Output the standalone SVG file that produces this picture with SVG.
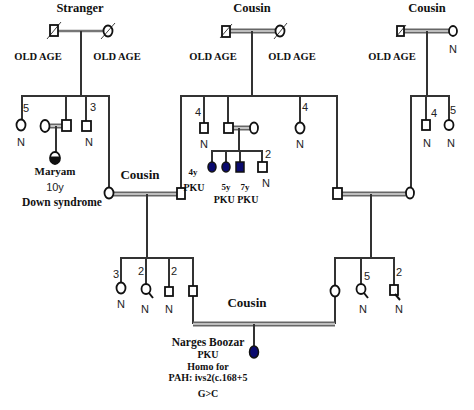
<svg xmlns="http://www.w3.org/2000/svg" width="474" height="410" viewBox="0 0 474 410">
<style>
.ln{stroke:#333;stroke-width:2;fill:none}
.sym{stroke:#111;stroke-width:1.8;fill:#fff}
.aff{stroke:#111;stroke-width:1.5;fill:#0a0a6e}
.m1{stroke:#777;stroke-width:2.5;fill:none}
.mo{stroke:#666;stroke-width:5;fill:none}
.mi{stroke:#ddd;stroke-width:1.6;fill:none}
.lbl{font-family:"Liberation Serif",serif;font-weight:bold;fill:#111;text-anchor:middle}
.big{font-size:13px}
.sm{font-size:10.5px}
.num{font-family:"Liberation Sans Narrow","Liberation Sans",sans-serif;font-size:11px;fill:#222;text-anchor:middle}
.slash{stroke:#111;stroke-width:0.8}
</style>
<rect width="474" height="410" fill="#fff"/>
<g id="connectors">
<line class="m1" x1="58" y1="31" x2="104" y2="31"/>
<line class="mo" x1="230" y1="31" x2="276" y2="31"/><line class="mi" x1="230" y1="31" x2="276" y2="31"/>
<line class="mo" x1="404" y1="31" x2="449" y2="31"/><line class="mi" x1="404" y1="31" x2="449" y2="31"/>
<line class="ln" x1="81" y1="31" x2="81" y2="97"/>
<line class="ln" x1="252" y1="31" x2="252" y2="97"/>
<line class="ln" x1="427" y1="31" x2="427" y2="97"/>
<polyline class="ln" points="22,120 22,96 109,96 109,188"/>
<line class="ln" x1="66" y1="96" x2="66" y2="121"/>
<line class="ln" x1="86" y1="96" x2="86" y2="121"/>
<polyline class="ln" points="181,188 181,96 337,96 337,188"/>
<line class="ln" x1="204" y1="96" x2="204" y2="123"/>
<line class="ln" x1="228" y1="96" x2="228" y2="123"/>
<line class="ln" x1="300" y1="96" x2="300" y2="123"/>
<polyline class="ln" points="411,188 411,96 449,96 449,121"/>
<line class="ln" x1="426" y1="96" x2="426" y2="120"/>
<line class="mo" x1="50" y1="126" x2="62" y2="126"/><line class="mi" x1="50" y1="126" x2="62" y2="126"/>
<line class="ln" x1="56" y1="126" x2="56" y2="153"/>
<line class="mo" x1="233" y1="128" x2="250" y2="128"/><line class="mi" x1="233" y1="128" x2="250" y2="128"/>
<line class="ln" x1="239" y1="128" x2="239" y2="151"/>
<polyline class="ln" points="212,162 212,151 262,151 262,162"/>
<line class="ln" x1="226" y1="151" x2="226" y2="162"/>
<line class="ln" x1="240" y1="151" x2="240" y2="162"/>
<line class="mo" x1="113" y1="194" x2="177" y2="194"/><line class="mi" x1="113" y1="194" x2="177" y2="194"/>
<line class="mo" x1="342" y1="194" x2="406" y2="194"/><line class="mi" x1="342" y1="194" x2="406" y2="194"/>
<line class="ln" x1="147" y1="194" x2="147" y2="258"/>
<line class="ln" x1="371" y1="194" x2="371" y2="258"/>
<polyline class="ln" points="121,283 121,258 193,258 193,324"/>
<line class="ln" x1="146" y1="258" x2="146" y2="285"/>
<line class="ln" x1="169" y1="258" x2="169" y2="287"/>
<polyline class="ln" points="335,324 335,258 394,258 394,285"/>
<line class="ln" x1="361" y1="258" x2="361" y2="284"/>
<line class="mo" x1="193" y1="324" x2="335" y2="324"/><line class="mi" x1="193" y1="324" x2="335" y2="324"/>
<line class="ln" x1="254" y1="324" x2="254" y2="346"/>
</g>
<g id="n-stranger-m"><rect class="sym" x="50" y="25" width="8" height="11"/><line class="slash" x1="47" y1="39" x2="61" y2="22"/></g>
<g id="n-stranger-f"><ellipse class="sym" cx="108" cy="31" rx="4.5" ry="5.5"/><line class="slash" x1="101" y1="39" x2="115" y2="23"/></g>
<g id="n-cousin1-m"><rect class="sym" x="222" y="26" width="8" height="11"/><line class="slash" x1="220" y1="38" x2="232" y2="24"/></g>
<g id="n-cousin1-f"><ellipse class="sym" cx="280" cy="31" rx="4.5" ry="5.5"/><line class="slash" x1="274" y1="39" x2="287" y2="23"/></g>
<g id="n-cousin2-m"><rect class="sym" x="397" y="26" width="7" height="10"/><line class="slash" x1="396" y1="37" x2="406" y2="25"/></g>
<g id="n-cousin2-f"><ellipse class="sym" cx="453" cy="31" rx="4" ry="5"/></g>
<g id="t-top" class="lbl">
<text x="80" y="12" font-size="12.5">Stranger</text>
<text x="252" y="12" font-size="12.5">Cousin</text>
<text x="427" y="12" font-size="12.5">Cousin</text>
<text class="sm" x="38" y="60">OLD AGE</text>
<text class="sm" x="117" y="60">OLD AGE</text>
<text class="sm" x="213" y="60">OLD AGE</text>
<text class="sm" x="292" y="60">OLD AGE</text>
<text class="sm" x="392" y="60">OLD AGE</text>
</g>
<text class="num" x="453" y="53">N</text>
<g id="n-l1"><ellipse class="sym" cx="21" cy="125" rx="4.5" ry="5.5"/><text class="num" x="26" y="112">5</text><text class="num" x="21" y="146">N</text></g>
<g id="n-l2-spouse"><ellipse class="sym" cx="45" cy="126" rx="4.5" ry="6"/></g>
<g id="n-l2"><rect class="sym" x="62" y="120" width="9" height="11"/></g>
<g id="n-maryam"><ellipse class="sym" cx="55" cy="158" rx="5" ry="6"/><path d="M50.2,156.5 A5,6 0 1 0 59.8,156.5 Z" fill="#111"/>
<text class="lbl" x="55" y="175" font-size="11">Maryam</text>
<text class="num" x="55" y="191" font-size="12">10y</text>
<text class="lbl" x="62" y="206" font-size="11.5">Down syndrome</text></g>
<g id="n-l3"><rect class="sym" x="82" y="121" width="9" height="10"/><text class="num" x="93" y="111">3</text><text class="num" x="89" y="146">N</text></g>
<g id="n-l4"><ellipse class="sym" cx="109" cy="193" rx="4.5" ry="5.5"/></g>
<text class="lbl big" x="140" y="179">Cousin</text>
<g id="n-m1"><rect class="sym" x="177" y="188" width="8" height="11"/></g>
<g id="n-m2"><rect class="sym" x="200" y="123" width="8" height="10"/><text class="num" x="198" y="116">4</text><text class="num" x="204" y="148">N</text></g>
<g id="n-m3"><rect class="sym" x="224" y="123" width="9" height="10"/></g>
<g id="n-m3-spouse"><ellipse class="sym" cx="254" cy="128" rx="4" ry="5.5"/></g>
<g id="n-pku1"><ellipse class="aff" cx="212" cy="167" rx="4" ry="5"/></g>
<g id="n-pku2"><ellipse class="aff" cx="226" cy="167" rx="4" ry="5"/></g>
<g id="n-pku3"><rect class="aff" x="236" y="162" width="8" height="10"/></g>
<g id="n-m-s4"><rect class="sym" x="258" y="162" width="9" height="10"/><text class="num" x="268" y="158">2</text><text class="num" x="266" y="187">N</text></g>
<g class="lbl" font-size="9">
<text x="193" y="175">4y</text>
<text x="194" y="191" font-size="10">PKU</text>
<text x="226" y="190">5y</text>
<text x="245" y="190">7y</text>
<text x="236" y="203" font-size="10">PKU PKU</text>
</g>
<g id="n-m4"><ellipse class="sym" cx="300" cy="128" rx="4.5" ry="5.5"/><text class="num" x="305" y="111">4</text><text class="num" x="300" y="148">N</text></g>
<g id="n-m5"><rect class="sym" x="333" y="188" width="9" height="11"/></g>
<g id="n-r1"><ellipse class="sym" cx="410" cy="193" rx="4" ry="5.5"/></g>
<g id="n-r2"><rect class="sym" x="422" y="120" width="8" height="10"/><text class="num" x="434" y="117">4</text><text class="num" x="427" y="147">N</text></g>
<g id="n-r3"><ellipse class="sym" cx="449" cy="125" rx="4.5" ry="5"/><text class="num" x="453" y="114">5</text><text class="num" x="451" y="147">N</text></g>
<g id="n-c1"><ellipse class="sym" cx="121" cy="288" rx="4.5" ry="5.5"/><text class="num" x="116" y="278">3</text><text class="num" x="121" y="308">N</text></g>
<g id="n-c2"><ellipse class="sym" cx="146" cy="289" rx="4.5" ry="5"/><line stroke="#111" stroke-width="2" x1="149" y1="293" x2="153" y2="298"/><text class="num" x="141" y="275">2</text><text class="num" x="145" y="313">N</text></g>
<g id="n-c3"><rect class="sym" x="165" y="287" width="8" height="9"/><text class="num" x="174" y="275">2</text><text class="num" x="169" y="313">N</text></g>
<g id="n-c4"><rect class="sym" x="189" y="286" width="8" height="10"/></g>
<g id="n-c5"><ellipse class="sym" cx="335" cy="291" rx="4.5" ry="5.5"/></g>
<g id="n-c6"><ellipse class="sym" cx="361" cy="289" rx="4.5" ry="5"/><line stroke="#111" stroke-width="2" x1="364" y1="293" x2="368" y2="298"/><text class="num" x="367" y="280">5</text><text class="num" x="363" y="313">N</text></g>
<g id="n-c7"><rect class="sym" x="390" y="285" width="8" height="10"/><line stroke="#111" stroke-width="2" x1="395" y1="294" x2="400" y2="300"/><text class="num" x="399" y="276">2</text><text class="num" x="399" y="313">N</text></g>
<text class="lbl big" x="247" y="307">Cousin</text>
<g id="n-proband"><ellipse class="aff" cx="254" cy="352" rx="4.5" ry="6"/>
<g class="lbl" font-size="10">
<text x="208" y="346" font-size="11.5">Narges Boozar</text>
<text x="208" y="358">PKU</text>
<text x="208" y="370">Homo for</text>
<text x="208" y="381">PAH: ivs2(c.168+5</text>
<text x="208" y="397">G&gt;C</text>
</g></g>
</svg>
